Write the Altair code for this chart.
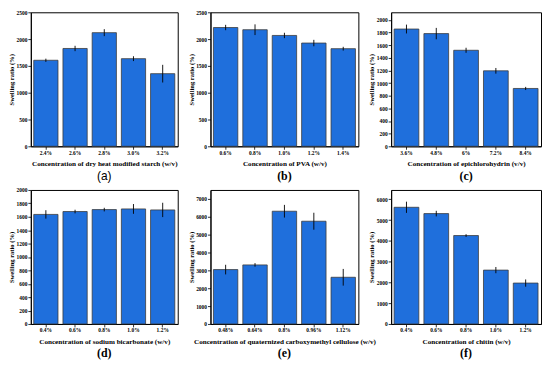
import altair as alt
import pandas as pd

# ---- data ----
a_cats = ["2.4%", "2.6%", "2.8%", "3.0%", "3.2%"]
a_vals = [1605, 1825, 2120, 1635, 1355]
a_errs = [30, 50, 65, 45, 165]

b_cats = ["0.6%", "0.8%", "1.0%", "1.2%", "1.4%"]
b_vals = [2216, 2175, 2068, 1926, 1821]
b_errs = [50, 100, 50, 60, 35]

c_cats = ["3.6%", "4.8%", "6%", "7.2%", "8.4%"]
c_vals = [1855, 1783, 1519, 1194, 915]
c_errs = [70, 90, 40, 45, 25]

d_cats = ["0.4%", "0.6%", "0.8%", "1.0%", "1.2%"]
d_vals = [1635, 1678, 1707, 1717, 1702]
d_errs = [63, 27, 27, 73, 107]

e_cats = ["0.48%", "0.64%", "0.8%", "0.96%", "1.12%"]
e_vals = [3043, 3305, 6310, 5750, 2613]
e_errs = [270, 100, 355, 475, 467]

f_cats = ["0.4%", "0.6%", "0.8%", "1.0%", "1.2%"]
f_vals = [5616, 5312, 4256, 2592, 1968]
f_errs = [270, 135, 65, 150, 175]

a_ticks = [0, 500, 1000, 1500, 2000, 2500]
b_ticks = [0, 500, 1000, 1500, 2000, 2500]
c_ticks = [0, 200, 400, 600, 800, 1000, 1200, 1400, 1600, 1800, 2000]
d_ticks = [0, 200, 400, 600, 800, 1000, 1200, 1400, 1600, 1800, 2000]
e_ticks = [0, 1000, 2000, 3000, 4000, 5000, 6000, 7000]
f_ticks = [0, 1000, 2000, 3000, 4000, 5000, 6000]

x_titles = [
    "Concentration of dry heat modified starch (w/v)",
    "Concentration of PVA (w/v)",
    "Concentration of epichlorohydrin (v/v)",
    "Concentration of sodium bicarbonate (w/v)",
    "Concentration of quaternized carboxymethyl cellulose (w/v)",
    "Concentration of chitin (w/v)",
]
letters = ["(a)", "(b)", "(c)", "(d)", "(e)", "(f)"]
y_title = "Swelling ratio (%)"

SERIF = "Liberation Serif"


def panel(cats, vals, errs, ticks, ymax, xtitle, letter, width, height, lfont, lweight):
    df = pd.DataFrame({"cat": cats, "val": vals, "err": errs})
    df["lo"] = df["val"] - df["err"]
    df["hi"] = df["val"] + df["err"]
    xs = alt.Scale(paddingInner=0.17, paddingOuter=0.1)
    xax = alt.Axis(labelAngle=0, titlePadding=4)
    ysc = alt.Scale(domain=[0, ymax], nice=False, zero=True)
    yax = alt.Axis(values=ticks, grid=False, titlePadding=1.5,
                   format="d", labelOverlap=False)
    bars = alt.Chart(df).mark_bar(color="#1f6fdc", stroke="#3c3c3c",
                                  strokeWidth=0.8).encode(
        x=alt.X("cat:N", sort=cats, title=xtitle, scale=xs, axis=xax),
        y=alt.Y("val:Q", title=y_title, scale=ysc, axis=yax))
    err = alt.Chart(df).mark_rule(color="black", strokeWidth=0.9).encode(
        x=alt.X("cat:N", sort=cats, title=xtitle, scale=xs, axis=xax),
        y=alt.Y("lo:Q", title=y_title, scale=ysc, axis=yax),
        y2="hi:Q")
    return alt.layer(bars, err).properties(
        width=width, height=height,
        title=alt.TitleParams(letter, orient="bottom", font=lfont,
                              fontSize=12, fontWeight=lweight, color="black",
                              offset=4),
    )


pa = panel(a_cats, a_vals, a_errs, a_ticks, 2500, x_titles[0], letters[0], 148, 135, "Liberation Sans", "normal")
pb = panel(b_cats, b_vals, b_errs, b_ticks, 2500, x_titles[1], letters[1], 149, 135, SERIF, "bold")
pc = panel(c_cats, c_vals, c_errs, c_ticks, 2120, x_titles[2], letters[2], 151, 135, SERIF, "bold")
pd_ = panel(d_cats, d_vals, d_errs, d_ticks, 2000, x_titles[3], letters[3], 148, 135, SERIF, "bold")
pe = panel(e_cats, e_vals, e_errs, e_ticks, 7500, x_titles[4], letters[4], 149, 135, SERIF, "bold")
pf = panel(f_cats, f_vals, f_errs, f_ticks, 6450, x_titles[5], letters[5], 151, 135, SERIF, "bold")

chart = alt.concat(pa, pb, pc, pd_, pe, pf, columns=3,
                   spacing={"row": 44, "column": 33}, bounds="flush").properties(
    padding=0, background="white"
).configure_view(
    stroke="black", strokeWidth=1
).configure_axis(
    labelFont=SERIF, labelFontWeight="bold", labelFontSize=5.5, labelColor="black",
    titleFont=SERIF, titleFontWeight="bold", titleColor="black",
    tickColor="black", tickSize=3, tickWidth=0.8, domainColor="black",
    labelPadding=1,
).configure_axisX(
    titleFontSize=7.2
).configure_axisY(
    titleFontSize=6.6
)

chart.save("out.html", embed_options={"renderer": "svg", "actions": False})
